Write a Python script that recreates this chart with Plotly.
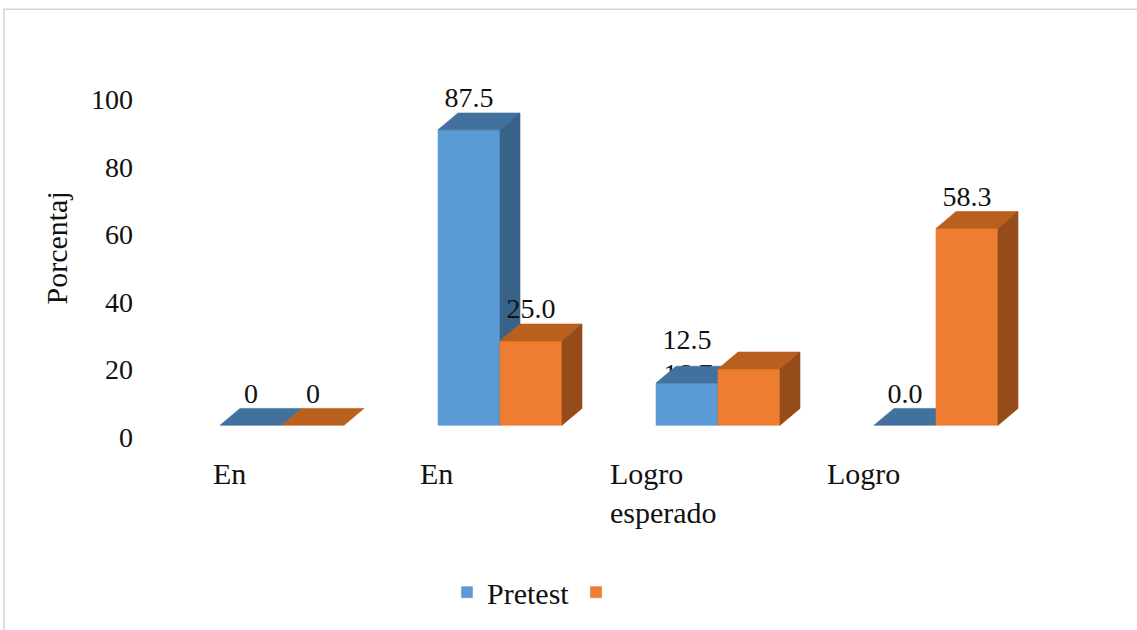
import plotly.graph_objects as go

# ---- data -------------------------------------------------------------
categories = ["En", "En", "Logro<br>esperado", "Logro"]
pretest = [0, 87.5, 12.5, 0.0]
posttest = [0, 25.0, 16.7, 58.3]
pretest_labels = ["0", "87.5", "12.5", "0.0"]
posttest_labels = ["0", "25.0", "16.7", "58.3"]
series_names = ["Pretest", " "]
y_ticks = [0, 20, 40, 60, 80, 100]

# ---- styling ----------------------------------------------------------
FONT = "Liberation Serif, Times New Roman, serif"
TEXT_COLOR = "#111"
BLUE = dict(front="#5B9BD5", top="#41719C", side="#386389")
ORANGE = dict(front="#ED7D31", top="#B9601F", side="#964C1A")

PX_PER_CAT = 218.0      # horizontal pixels per category
PX_PER_PCT = 3.4        # vertical pixels per percentage point
BAR_W = 62 / PX_PER_CAT
DEPTH_X = 20 / PX_PER_CAT
DEPTH_Y = 17 / PX_PER_PCT
FRONT_LIFT = 12 / PX_PER_PCT   # floor of the front faces relative to axis 0
LABEL_LIFT = 30 / PX_PER_PCT

# plot area in pixels
L, R, T, B = 140, 1100, 40, 470
X0_PX, Y0_PX = 282, 440          # pixel of category 0 centre / value 0 label
x_range = [(L - X0_PX) / PX_PER_CAT, (R - X0_PX) / PX_PER_CAT]
y_range = [(Y0_PX - B) / PX_PER_PCT, (Y0_PX - T) / PX_PER_PCT]


def box_faces(values, offset):
    """Front, top and side polygons of pseudo-3D bars."""
    front, top, side = ([], []), ([], []), ([], [])

    def add(poly, pts):
        for px, py in pts:
            poly[0].append(px)
            poly[1].append(py)
        poly[0].append(None)
        poly[1].append(None)

    for i, v in enumerate(values):
        x0 = i + offset
        x1 = x0 + BAR_W
        yb = FRONT_LIFT
        yt = v + FRONT_LIFT
        if v > 0:
            add(front, [(x0, yb), (x1, yb), (x1, yt), (x0, yt), (x0, yb)])
            add(side, [(x1, yb), (x1, yt), (x1 + DEPTH_X, yt + DEPTH_Y),
                       (x1 + DEPTH_X, yb + DEPTH_Y), (x1, yb)])
        add(top, [(x0, yt), (x1, yt), (x1 + DEPTH_X, yt + DEPTH_Y),
                  (x0 + DEPTH_X, yt + DEPTH_Y), (x0, yt)])
    return front, top, side


def face_trace(poly, color):
    return go.Scatter(x=poly[0], y=poly[1], mode="lines", fill="toself",
                      fillcolor=color, line=dict(color=color, width=0.6),
                      hoverinfo="skip", showlegend=False)


fig = go.Figure()


def label_xy(values, offset):
    """Data-label anchor: centred over the front face, above the bar top."""
    xs = [i + offset + BAR_W / 2 for i in range(len(values))]
    ys = [v + FRONT_LIFT + LABEL_LIFT for v in values]
    return xs, ys


pre_x, pre_y = label_xy(pretest, -BAR_W)
post_x, post_y = label_xy(posttest, 0.0)

# the third post-test label sits tucked behind the bars
pre_y[2] += 11 / PX_PER_PCT
post_x[2] -= 61 / PX_PER_CAT
post_y[2] -= 37 / PX_PER_PCT

label_font = dict(family=FONT, size=28, color=TEXT_COLOR)

fig.add_trace(go.Scatter(x=[post_x[2]], y=[post_y[2]], mode="text",
                         text=[posttest_labels[2]], textposition="middle center",
                         textfont=label_font, hoverinfo="skip", showlegend=False))

for values, offset, col in [(pretest, -BAR_W, BLUE), (posttest, 0.0, ORANGE)]:
    front, top, side = box_faces(values, offset)
    fig.add_trace(face_trace(front, col["front"]))
    fig.add_trace(face_trace(top, col["top"]))
    fig.add_trace(face_trace(side, col["side"]))

idx_post = [0, 1, 3]
fig.add_trace(go.Scatter(x=pre_x, y=pre_y, mode="text", text=pretest_labels,
                         textposition="middle center", textfont=label_font,
                         hoverinfo="skip", showlegend=False))
fig.add_trace(go.Scatter(x=[post_x[i] for i in idx_post],
                         y=[post_y[i] for i in idx_post], mode="text",
                         text=[posttest_labels[i] for i in idx_post],
                         textposition="middle center", textfont=label_font,
                         hoverinfo="skip", showlegend=False))

# legend entries
fig.add_trace(go.Bar(x=[None], y=[None], name=series_names[0],
                     marker_color=BLUE["front"]))
fig.add_trace(go.Bar(x=[None], y=[None], name=series_names[1],
                     marker_color=ORANGE["front"]))

# category labels
cat_shift_px = [7, -4, 5, -13]
for i, name in enumerate(categories):
    fig.add_annotation(x=i - 60 / PX_PER_CAT, y=(Y0_PX - 458) / PX_PER_PCT,
                       xref="x", yref="y", xshift=cat_shift_px[i],
                       text=name, showarrow=False,
                       xanchor="center", yanchor="top", align="left",
                       font=dict(family=FONT, size=30, color=TEXT_COLOR))

# axis title
fig.add_annotation(x=0, y=(Y0_PX - 250) / PX_PER_PCT, xref="paper", yref="y",
                   xshift=57 - L, xanchor="center", yanchor="middle",
                   text="Porcentaj", textangle=-90, showarrow=False,
                   font=dict(family=FONT, size=30, color=TEXT_COLOR))

# chart border
fig.add_shape(type="rect", xref="paper", yref="paper",
              x0=(4 - L) / (R - L), x1=(1300 - L) / (R - L),
              y0=(B - 700) / (B - T), y1=(B - 9) / (B - T),
              line=dict(color="#D4D4D4", width=1.5), fillcolor="rgba(0,0,0,0)")

fig.update_layout(
    width=1137, height=630,
    margin=dict(l=L, r=1137 - R, t=T, b=630 - B),
    paper_bgcolor="white", plot_bgcolor="white",
    xaxis=dict(range=x_range, showgrid=False, zeroline=False, showline=False,
               showticklabels=False, fixedrange=True),
    yaxis=dict(range=y_range, tickvals=y_ticks, showgrid=False, zeroline=False,
               showline=False, ticks="", ticklabelstandoff=6,
               tickfont=dict(family=FONT, size=28, color=TEXT_COLOR)),
    showlegend=True,
    legend=dict(orientation="h", x=(576 - L) / (R - L), xanchor="center",
                y=(B - 596) / (B - T), yanchor="middle",
                font=dict(family=FONT, size=30, color=TEXT_COLOR),
                entrywidth=84, bgcolor="rgba(0,0,0,0)"),
)

fig.write_html("out.html")
